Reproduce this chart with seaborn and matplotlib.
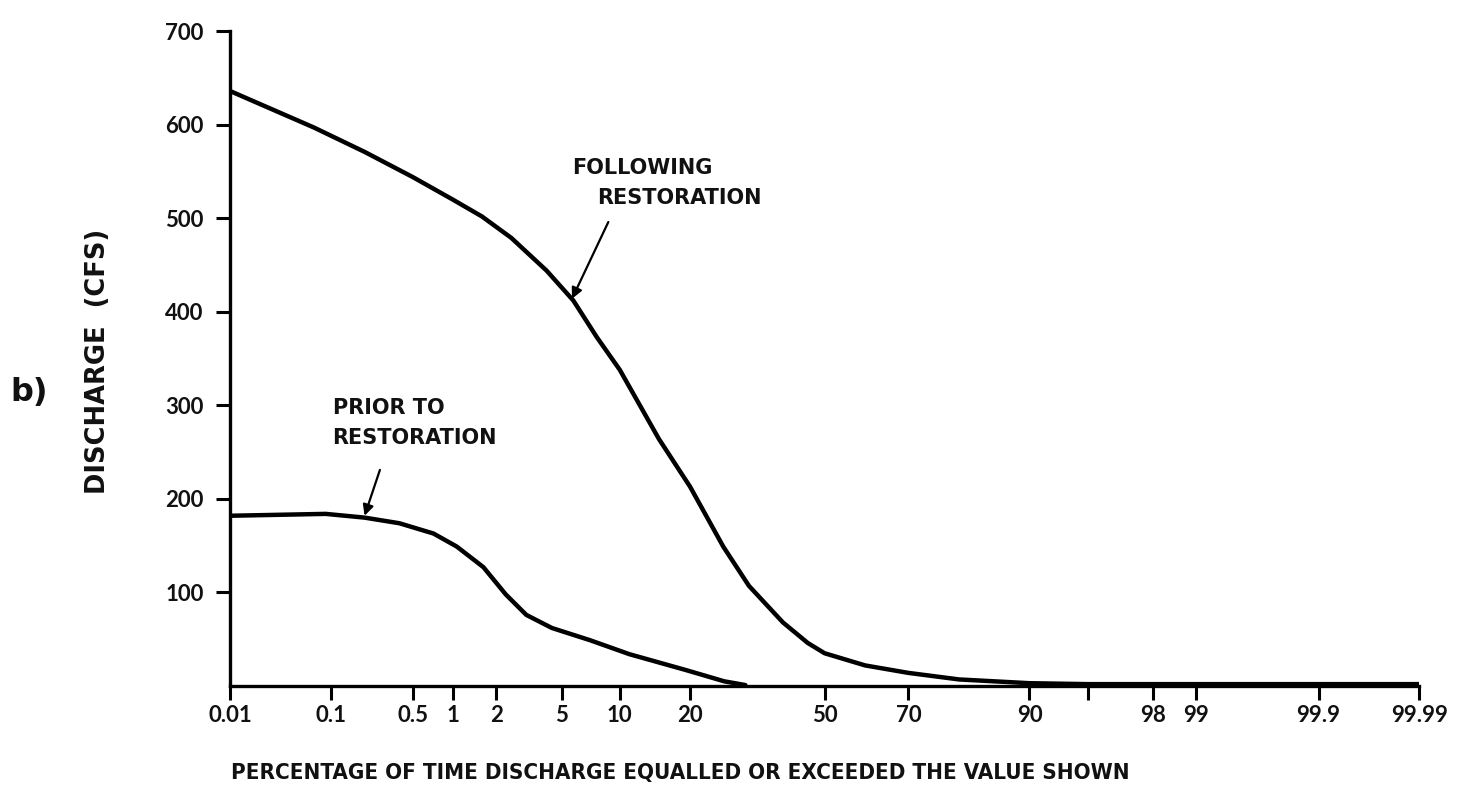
from statistics import NormalDist

import numpy as np
import pandas as pd
import matplotlib
matplotlib.use("Agg")
import matplotlib.pyplot as plt
import seaborn as sns

# Flow-duration curves: percent of time a discharge is equalled or exceeded
following_pct = [0.01, 0.07, 0.2, 0.5, 1.0, 1.6, 2.5, 4.1, 5.8, 7.7, 10, 15, 20,
                 26.3, 31.8, 39.7, 45.8, 50, 60, 70, 80, 90, 95, 99, 99.9, 99.99]
following_cfs = [636, 597, 571, 544, 520, 502, 479, 444, 412, 373, 338, 264, 213,
                 149, 107, 68, 46, 35, 22, 14, 7, 3, 2, 2, 2, 2]

prior_pct = [0.01, 0.09, 0.2, 0.39, 0.72, 1.07, 1.64, 2.3, 3.1, 4.4, 7.1, 11.1,
             19.3, 26.5, 31]
prior_cfs = [182, 184, 180, 174, 163, 149, 127, 98, 76, 62, 49, 34,
             17, 5, 1]

x_ticks = [0.01, 0.1, 0.5, 1, 2, 5, 10, 20, 50, 70, 90, 95, 98, 99, 99.9, 99.99]
x_ticklabels = ["0.01", "0.1", "0.5", "1", "2", "5", "10", "20", "50", "70",
                "90", "", "98", "99", "99.9", "99.99"]
y_ticks = [100, 200, 300, 400, 500, 600, 700]

# Normal-probability axis for the exceedance percentage
_nd = NormalDist()
_ppf = np.vectorize(_nd.inv_cdf, otypes=[float])
_cdf = np.vectorize(_nd.cdf, otypes=[float])


def probit(p):
    p = np.clip(np.asarray(p, dtype=float) / 100.0, 1e-9, 1 - 1e-9)
    return _ppf(p)


def inv_probit(z):
    return 100.0 * _cdf(np.asarray(z, dtype=float))


sns.set_theme(style="ticks")
plt.rcParams["font.family"] = ["DejaVu Sans"]

df = pd.concat([
    pd.DataFrame({"pct": following_pct, "cfs": following_cfs, "period": "following"}),
    pd.DataFrame({"pct": prior_pct, "cfs": prior_cfs, "period": "prior"}),
])

fig = plt.figure(figsize=(14.66, 8.0), dpi=100)
ax = fig.add_axes([0.157, 0.1425, 0.811, 0.8185])
ax.set_xscale("function", functions=(probit, inv_probit))

sns.lineplot(data=df, x="pct", y="cfs", units="period", estimator=None,
             sort=False, color="black", linewidth=3.2, ax=ax, legend=False)

ax.set_xlim(0.01, 99.99)
ax.set_ylim(0, 700)
ax.set_xticks(x_ticks)
ax.set_xticklabels(x_ticklabels)
ax.set_yticks(y_ticks)
ax.set_xlabel("")
ax.set_ylabel("")
ax.minorticks_off()

sns.despine(ax=ax)
for side in ("left", "bottom"):
    ax.spines[side].set_linewidth(2.4)
    ax.spines[side].set_color("black")
ax.tick_params(axis="both", direction="out", length=10, width=2.2,
               color="black", labelsize=16, labelcolor="#111111")
ax.tick_params(axis="x", pad=4)
ax.tick_params(axis="y", pad=9)
for lab in ax.get_xticklabels() + ax.get_yticklabels():
    lab.set_family(["Lato", "DejaVu Sans"])
    lab.set_fontweight("bold")

arrow = dict(arrowstyle="-|>", color="black", lw=1.6, mutation_scale=16,
             shrinkA=0, shrinkB=0)
note = dict(fontsize=15, fontweight="bold", ha="left", va="center",
            color="#111111")

# Labels for the two curves
ax.text(5.7, 554, "FOLLOWING", **note)
ax.text(7.7, 522, "RESTORATION", **note)
ax.annotate("", xy=(5.7, 414), xytext=(8.8, 496), arrowprops=arrow)

ax.text(0.104, 297, "PRIOR TO", **note)
ax.text(0.104, 265, "RESTORATION", **note)
ax.annotate("", xy=(0.2, 182), xytext=(0.27, 231), arrowprops=arrow)

ylab = fig.text(0.067, 0.548, "DISCHARGE  (CFS)", rotation=90, fontsize=17,
                fontweight="bold", ha="center", va="center", color="#111111")
fig.text(0.02, 0.51, "b)", fontsize=23, fontweight="bold",
         ha="center", va="center", color="#111111")
xlab = fig.text(0.464, 0.034,
                "PERCENTAGE OF TIME DISCHARGE EQUALLED OR EXCEEDED THE VALUE SHOWN",
                fontsize=15, fontweight="bold", fontstretch="condensed",
                ha="center", va="center", color="#111111")

# Size the two axis titles to their printed lengths
fig.canvas.draw()
renderer = fig.canvas.get_renderer()
bb = xlab.get_window_extent(renderer)
xlab.set_fontsize(xlab.get_fontsize() * 900.0 / bb.width)
bb = ylab.get_window_extent(renderer)
ylab.set_fontsize(ylab.get_fontsize() * 265.0 / bb.height)

fig.savefig("out.png", dpi=100, facecolor="white")
